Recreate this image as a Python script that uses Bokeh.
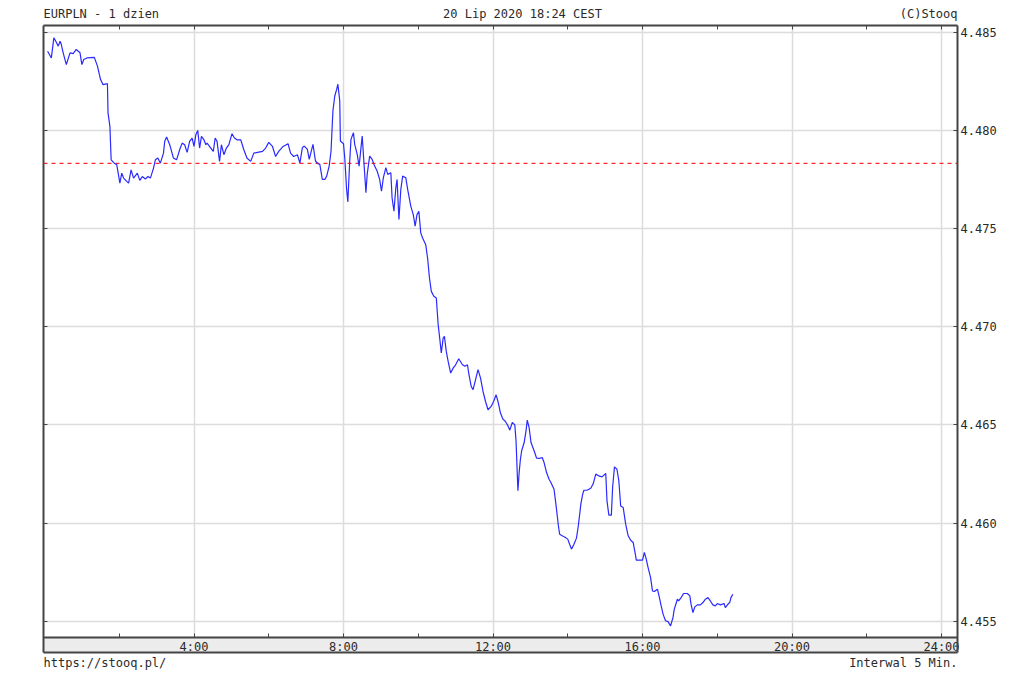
from bokeh.plotting import figure
from bokeh.models import (Range1d, LinearAxis, FixedTicker, BoxAnnotation,
                          Label, ColumnDataSource)
from bokeh.embed import file_html
from bokeh.resources import INLINE

# ---- data ----
minute_of_day = [
    5, 11, 15, 19, 22, 25, 27, 30, 35, 41, 46, 51, 57, 60, 63, 68, 80, 85, 90, 94,
    101, 102, 105, 107, 112, 116, 121, 124, 127, 132, 135, 139, 143, 149, 153, 157, 162, 166, 170, 175,
    178, 182, 186, 191, 193, 196, 201, 207, 212, 217, 221, 225, 229, 233, 237, 240, 243, 246, 249, 252,
    256, 259, 261, 267, 271, 274, 277, 281, 284, 288, 292, 296, 301, 305, 309, 315, 320, 325, 331, 336,
    342, 350, 355, 360, 366, 371, 376, 383, 391, 395, 400, 406, 410,
    414, 417, 422, 425, 431, 435, 439, 442, 446, 450, 453, 457, 460, 463, 466, 469, 471, 474, 475, 480,
    482, 485, 487, 490, 492, 496, 498, 502, 505, 507, 510, 513, 516, 518, 522, 526, 530, 534, 538, 541,
    544, 548, 551, 556, 558, 561, 564, 566, 569, 572, 575, 580, 583, 588, 592, 595, 598, 601, 604, 607,
    612, 615, 618, 621, 625, 629, 632, 635, 637, 640, 642, 645, 648, 652, 656, 660, 665, 671, 675, 679,
    681, 685, 688, 692, 696, 700, 704, 708, 712, 717, 721, 725, 728, 732,
    736, 740, 744, 747, 751, 755, 757, 759, 760, 762, 764, 766, 770, 773, 775, 778, 781, 786, 790, 795,
    799, 802, 806, 810, 813, 818, 821, 825, 827, 831, 835, 840, 843, 846, 850, 854, 857, 861, 864, 866,
    871, 877, 881, 885, 890, 895, 901, 903, 906, 910, 912, 915, 919, 922, 925, 929, 933, 937, 941, 945,
    949, 950, 954, 960, 963, 966, 969, 973, 976, 979, 984, 986, 990, 993, 997, 1001, 1005, 1009, 1011, 1016,
    1018, 1022, 1026, 1032, 1036, 1038, 1041, 1044, 1048, 1053, 1057, 1061, 1065, 1069, 1073, 1077, 1080, 1085, 1091, 1093,
    1097, 1100, 1102, 1105,
]
eurpln = [
    4.48403, 4.48369, 4.48471, 4.48449, 4.48429, 4.48454, 4.48437, 4.48395, 4.48335, 4.48395,
    4.48391, 4.48412, 4.48395, 4.48335, 4.48361, 4.48369, 4.48372, 4.48327, 4.48259, 4.48233,
    4.48238, 4.48088, 4.48020, 4.47850, 4.47833, 4.47825, 4.47731, 4.47782, 4.47757, 4.47740,
    4.47731, 4.47799, 4.47757, 4.47782, 4.47745, 4.47765, 4.47752, 4.47765, 4.47757, 4.47808,
    4.47850, 4.47859, 4.47833, 4.47884, 4.47944, 4.47966, 4.47927, 4.47859, 4.47850, 4.47901,
    4.47935, 4.47927, 4.47888, 4.47944, 4.47961, 4.47918, 4.47978, 4.48000, 4.47910, 4.47969,
    4.47952, 4.47927, 4.47935, 4.47910, 4.47893, 4.47961, 4.47944, 4.47842, 4.47927, 4.47876,
    4.47910, 4.47927, 4.47983, 4.47961, 4.47952, 4.47952, 4.47901, 4.47859, 4.47842, 4.47884,
    4.47888, 4.47893, 4.47910, 4.47939, 4.47918, 4.47867, 4.47893, 4.47918, 4.47932, 4.47884,
    4.47867, 4.47876, 4.47833,
    4.47912, 4.47920, 4.47903, 4.47852, 4.47929, 4.47844, 4.47830, 4.47827, 4.47750, 4.47750,
    4.47767, 4.47818, 4.47895, 4.48099, 4.48175, 4.48209, 4.48235, 4.48150, 4.47946, 4.47932,
    4.47861, 4.47699, 4.47636, 4.47844, 4.47954, 4.47988, 4.47929, 4.47878, 4.47818, 4.47878,
    4.47971, 4.47827, 4.47682, 4.47776, 4.47869, 4.47852, 4.47818, 4.47793, 4.47750, 4.47690,
    4.47759, 4.47810, 4.47776, 4.47784, 4.47656, 4.47588, 4.47707, 4.47750, 4.47546, 4.47699,
    4.47767, 4.47759, 4.47699, 4.47614, 4.47571, 4.47512, 4.47571, 4.47588, 4.47478, 4.47452,
    4.47418, 4.47350, 4.47248, 4.47180, 4.47155, 4.47146, 4.47010, 4.46925, 4.46866, 4.46942,
    4.46951, 4.46874, 4.46823, 4.46764, 4.46789, 4.46806, 4.46837, 4.46806, 4.46798, 4.46806,
    4.46764, 4.46696, 4.46679, 4.46730, 4.46781, 4.46738, 4.46670, 4.46619, 4.46577, 4.46594,
    4.46619, 4.46653, 4.46619, 4.46560,
    4.46529, 4.46517, 4.46495, 4.46473, 4.46512, 4.46500, 4.46418, 4.46249, 4.46164, 4.46257,
    4.46325, 4.46368, 4.46410, 4.46469, 4.46524, 4.46486, 4.46410, 4.46368, 4.46330, 4.46329,
    4.46334, 4.46308, 4.46257, 4.46223, 4.46206, 4.46172, 4.46096, 4.45986, 4.45943, 4.45935,
    4.45929, 4.45918, 4.45892, 4.45867, 4.45892, 4.45923, 4.45986, 4.46096, 4.46147, 4.46167,
    4.46167, 4.46177, 4.46201, 4.46249, 4.46240, 4.46235, 4.46252, 4.46113, 4.46040, 4.46040,
    4.46181, 4.46286, 4.46274, 4.46215, 4.46087, 4.46079, 4.45994, 4.45935, 4.45912, 4.45901,
    4.45833, 4.45811, 4.45811, 4.45811, 4.45850, 4.45816, 4.45773, 4.45722, 4.45654, 4.45651,
    4.45663, 4.45637, 4.45578, 4.45536, 4.45502, 4.45498, 4.45476, 4.45519, 4.45561, 4.45612,
    4.45603, 4.45620, 4.45641, 4.45641, 4.45629, 4.45586, 4.45544, 4.45573, 4.45583, 4.45583,
    4.45595, 4.45612, 4.45620, 4.45603, 4.45583, 4.45578, 4.45590, 4.45583, 4.45590, 4.45569,
    4.45586, 4.45595, 4.45620, 4.45637,
]
prev_close = 4.47832

x_label_hours = [4, 8, 12, 16, 20, 24]
x_label_texts = ["4:00", "8:00", "12:00", "16:00", "20:00", "24:00"]
x_minor_hours = [2, 6, 10, 14, 18, 22]
y_ticks = [4.455, 4.460, 4.465, 4.470, 4.475, 4.480, 4.485]
y_tick_labels = ["4.455", "4.460", "4.465", "4.470", "4.475", "4.480", "4.485"]

title_left = "EURPLN - 1 dzien"
title_center = "20 Lip 2020 18:24 CEST"
title_right = "(C)Stooq"
foot_left = "https://stooq.pl/"
foot_right = "Interwal 5 Min."

# ---- styling / layout ----
FONT = "DejaVu Sans Mono"
FS = "12px"
TXT = "#2a2a2a"
FRAME = "#444444"
GRID = "#dcdcdc"
W, H = 1024, 674

# calibration of the reference picture: hour 0 at px 44, 37.375 px per hour;
# value 4.485 at py 31.7, 19633 px per unit
def hx(px):
    return (px - 44.0) / 37.375

def vy(py):
    return 4.485 - (py - 31.7) / 19633.0

fl, fr = hx(43), hx(957)                       # chart box left / right
ft, band_top, fb = vy(25), vy(637), vy(652)    # chart box top, band top, box bottom
out_l, out_r, out_t, out_b = hx(-30), hx(W + 30), vy(-30), vy(H + 30)

hours = [m / 60.0 for m in minute_of_day]
src = ColumnDataSource(dict(h=hours, v=eurpln))

p = figure(width=W, height=H, output_backend="svg", toolbar_location=None,
           x_range=Range1d(hx(0), hx(W)), y_range=Range1d(vy(H), vy(0)),
           x_axis_location=None, y_axis_location=None)
p.min_border = 0
p.min_border_left = p.min_border_right = p.min_border_top = p.min_border_bottom = 0
p.background_fill_color = "white"
p.border_fill_color = "white"
p.outline_line_color = None

# grids
p.xgrid.ticker = FixedTicker(ticks=x_label_hours)
p.ygrid.ticker = FixedTicker(ticks=y_ticks)
for g in (p.xgrid, p.ygrid):
    g.grid_line_color = GRID
    g.grid_line_width = 1.5

def box(**kw):
    p.add_layout(BoxAnnotation(level="underlay", line_color=None, fill_alpha=1.0, **kw))

# masks outside the chart box + grey time band
box(left=out_l, right=fl, top=out_t, bottom=out_b, fill_color="white")
box(left=fr, right=out_r, top=out_t, bottom=out_b, fill_color="white")
box(left=out_l, right=out_r, top=out_t, bottom=ft, fill_color="white")
box(left=out_l, right=out_r, top=fb, bottom=out_b, fill_color="white")
box(left=fl, right=fr, top=band_top, bottom=fb, fill_color="#ececec")

def style_axis(ax):
    ax.axis_line_color = FRAME
    ax.axis_line_width = 2
    ax.major_tick_in = 4
    ax.major_tick_out = 0
    ax.minor_tick_in = 4
    ax.minor_tick_out = 0
    ax.major_tick_line_color = FRAME
    ax.minor_tick_line_color = FRAME
    ax.major_tick_line_width = 1
    ax.minor_tick_line_width = 1
    ax.major_label_text_font = FONT
    ax.major_label_text_font_size = FS
    ax.major_label_text_color = TXT

# time axis on the band top
xb = LinearAxis(ticker=FixedTicker(ticks=x_label_hours, minor_ticks=x_minor_hours),
                major_label_overrides={h: t for h, t in zip(x_label_hours, x_label_texts)},
                fixed_location=band_top, bounds=(fl, fr))
style_axis(xb)
xb.major_label_standoff = 2
p.add_layout(xb, "below")

# top edge with ticks
xt = LinearAxis(ticker=FixedTicker(ticks=[], minor_ticks=x_minor_hours + x_label_hours),
                fixed_location=ft, bounds=(fl, fr))
style_axis(xt)
p.add_layout(xt, "above")

# bottom edge of the box
xe = LinearAxis(ticker=FixedTicker(ticks=[], minor_ticks=[]),
                fixed_location=fb, bounds=(fl, fr))
style_axis(xe)
p.add_layout(xe, "below")

# right value axis
yr = LinearAxis(ticker=FixedTicker(ticks=y_ticks),
                major_label_overrides={t: l for t, l in zip(y_ticks, y_tick_labels)},
                fixed_location=fr, bounds=(fb, ft))
style_axis(yr)
yr.major_label_standoff = 3
p.add_layout(yr, "right")

# left edge with ticks
yl = LinearAxis(ticker=FixedTicker(ticks=[], minor_ticks=y_ticks),
                fixed_location=fl, bounds=(fb, ft))
style_axis(yl)
p.add_layout(yl, "left")

# previous close reference line across the chart box
p.segment(x0=[fl], x1=[fr], y0=[prev_close], y1=[prev_close],
          line_color="#ff2a2a", line_width=1.2, line_dash="4 4")

# price line
p.line("h", "v", source=src, line_color="#2a2aff", line_width=1.2)

# header / footer texts
def add_text(txt, px, py, align):
    p.add_layout(Label(x=hx(px), y=vy(py), text=txt,
                       text_font=FONT, text_font_size=FS, text_color=TXT,
                       text_align=align, text_baseline="middle"))

add_text(title_left, 43, 13, "left")
add_text(title_center, 522, 13, "center")
add_text(title_right, 957, 13, "right")
add_text(foot_left, 43, 662, "left")
add_text(foot_right, 957, 662, "right")

open("out.html", "w").write(file_html(p, INLINE))
